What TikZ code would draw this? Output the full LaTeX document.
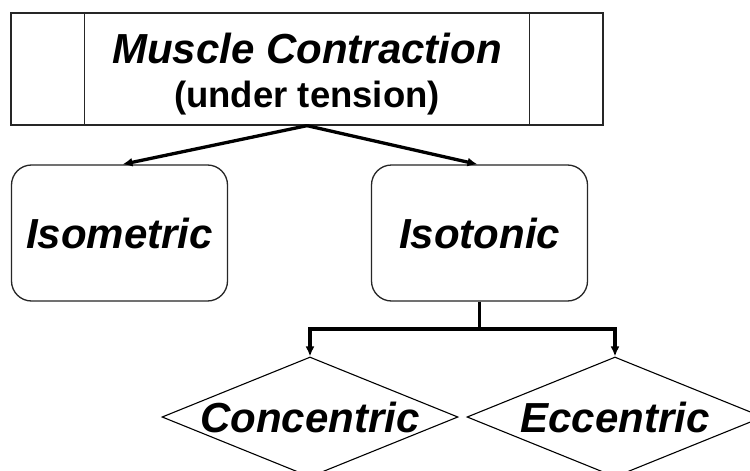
\documentclass[tikz,border=0pt]{standalone}
\usepackage{fontspec}
\setmainfont{Liberation Sans}
\usetikzlibrary{shapes.geometric,arrows.meta,calc}
\begin{document}
\begin{tikzpicture}[x=1pt,y=-1pt,
  boxline/.style={draw=black!85,line width=1.3pt},
  bigtxt/.style={font=\fontsize{42}{50}\selectfont\bfseries\itshape},
  roundbox/.style={boxline,rounded corners=20pt,minimum width=216pt,minimum height=136pt,inner sep=0pt,bigtxt},
  dia/.style={diamond,draw=black,line width=1.1pt,aspect=2.467,minimum width=296pt,minimum height=120pt,inner sep=0pt,bigtxt},
  arr/.style={line width=3.3pt,line join=miter,-{Latex[length=10pt,width=9pt]}},
  conn/.style={line width=3.3pt,line join=miter}
]
\clip (0,0) rectangle (750,471);
\fill[white] (0,0) rectangle (750,471);
% top box
\node[boxline,minimum width=592pt,minimum height=112pt,inner sep=0pt] (top) at (307,69) {};
\draw[boxline] ([xshift=74pt]top.north west) -- ([xshift=74pt]top.south west);
\draw[boxline] ([xshift=-74pt]top.north east) -- ([xshift=-74pt]top.south east);
\node[bigtxt,anchor=base,inner sep=0pt] (t1) at (307,63) {Muscle Contraction};
\node[font=\fontsize{36.5}{42}\selectfont\bfseries,anchor=base,inner sep=0pt] (t2) at (307,107) {(under tension)};
% second row
\node[roundbox] (iso) at (119.5,233) {Isometric};
\node[roundbox] (isot) at (479.5,233) {Isotonic};
% diamonds
\node[dia] (conc) at (310,417) {Concentric};
\node[dia] (ecc) at (615,417) {Eccentric};
% connectors
\draw[arr] (top.south) -- ([xshift=3pt]iso.north);
\draw[arr] (top.south) -- ([xshift=-2pt]isot.north);
\coordinate (j) at (479.5,329);
\draw[conn] (isot.south) -- (j);
\draw[arr] (j) -| (conc.north);
\draw[arr] (j) -| (ecc.north);
\end{tikzpicture}
\end{document}
